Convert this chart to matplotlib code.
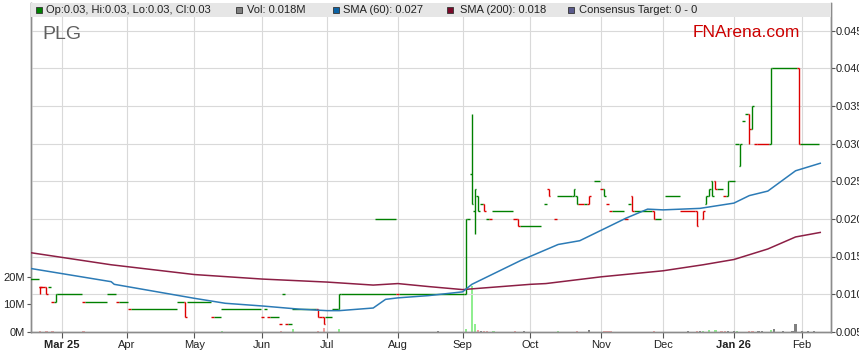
import numpy as np
import matplotlib.pyplot as plt
from matplotlib.patches import Rectangle

plt.rcParams['font.family'] = ['Liberation Sans', 'DejaVu Sans']

START = '2025-02-17'

# flat price stretches: first day, last day, price, g=up / r=down
run_first = ['2025-02-17', '2025-02-20', '2025-02-25', '2025-02-26', '2025-02-28', '2025-03-12',
             '2025-03-13', '2025-03-24', '2025-03-27', '2025-03-28', '2025-04-02', '2025-04-03',
             '2025-04-24', '2025-04-29', '2025-05-09', '2025-05-12', '2025-05-14', '2025-06-02',
             '2025-06-03', '2025-06-04', '2025-06-05', '2025-06-10', '2025-06-11', '2025-06-12',
             '2025-06-13', '2025-06-16', '2025-06-27', '2025-07-01', '2025-07-03', '2025-07-08',
             '2025-07-23', '2025-08-01', '2025-08-04', '2025-09-03', '2025-09-09', '2025-09-11',
             '2025-09-12', '2025-09-15', '2025-09-24', '2025-09-26', '2025-10-08', '2025-10-13',
             '2025-10-14', '2025-10-23', '2025-10-27', '2025-10-30', '2025-11-03', '2025-11-05',
             '2025-11-06', '2025-11-07', '2025-11-13', '2025-11-14', '2025-11-18', '2025-11-27',
             '2025-12-02', '2025-12-09', '2025-12-25', '2025-12-29', '2025-12-31', '2026-01-02',
             '2026-01-06', '2026-01-07', '2026-01-12', '2026-01-13', '2026-01-20', '2026-02-02']
run_last = ['2025-02-19', '2025-02-21', '2025-02-25', '2025-02-26', '2025-03-11', '2025-03-12',
            '2025-03-21', '2025-03-26', '2025-03-27', '2025-04-01', '2025-04-02', '2025-04-23',
            '2025-04-25', '2025-05-08', '2025-05-09', '2025-05-13', '2025-05-30', '2025-06-02',
            '2025-06-03', '2025-06-04', '2025-06-09', '2025-06-10', '2025-06-11', '2025-06-12',
            '2025-06-13', '2025-06-25', '2025-06-27', '2025-07-02', '2025-07-04', '2025-07-31',
            '2025-07-31', '2025-08-01', '2025-09-01', '2025-09-03', '2025-09-09', '2025-09-11',
            '2025-09-12', '2025-09-23', '2025-09-24', '2025-10-06', '2025-10-08', '2025-10-13',
            '2025-10-20', '2025-10-24', '2025-10-27', '2025-10-31', '2025-11-03', '2025-11-05',
            '2025-11-06', '2025-11-12', '2025-11-13', '2025-11-14', '2025-11-25', '2025-11-28',
            '2025-12-08', '2025-12-15', '2025-12-26', '2025-12-29', '2026-01-01', '2026-01-02',
            '2026-01-06', '2026-01-07', '2026-01-12', '2026-01-16', '2026-01-29', '2026-02-09']
run_price = [0.012, 0.011, 0.011, 0.009, 0.010, 0.009, 0.009, 0.010, 0.009, 0.009, 0.008, 0.008,
             0.009, 0.009, 0.007, 0.007, 0.008, 0.007, 0.008, 0.007, 0.007, 0.006, 0.010, 0.006,
             0.006, 0.008, 0.007, 0.007, 0.008, 0.010, 0.020, 0.010, 0.010, 0.020, 0.022, 0.020,
             0.020, 0.021, 0.020, 0.019, 0.022, 0.020, 0.023, 0.022, 0.022, 0.025, 0.024, 0.022,
             0.021, 0.021, 0.020, 0.022, 0.021, 0.020, 0.023, 0.021, 0.024, 0.023, 0.025, 0.030,
             0.033, 0.034, 0.030, 0.030, 0.040, 0.030]
run_dir = list('grgrgrggrgrgggrggrgrgrgrggrggggrggggrgrggrgrggrrrgrggggrgrggggrrggg')

# days with a move inside the day
bar_date = ['2025-02-20', '2025-02-24', '2025-02-27', '2025-04-28', '2025-06-26', '2025-06-30',
            '2025-07-07', '2025-09-02', '2025-09-04', '2025-09-05', '2025-09-08', '2025-09-10',
            '2025-09-25', '2025-10-09', '2025-10-21', '2025-10-22', '2025-10-28', '2025-11-04',
            '2025-11-17', '2025-11-26', '2025-12-16', '2025-12-18', '2025-12-19', '2025-12-22',
            '2025-12-23', '2025-12-24', '2025-12-30', '2026-01-05', '2026-01-08', '2026-01-09',
            '2026-01-19', '2026-01-30']
bar_open = [0.011, 0.011, 0.009, 0.009, 0.008, 0.007, 0.008, 0.010, 0.026, 0.021, 0.023, 0.022,
            0.020, 0.024, 0.023, 0.023, 0.022, 0.024, 0.023, 0.021, 0.021, 0.020, 0.022, 0.023,
            0.025, 0.025, 0.023, 0.027, 0.034, 0.032, 0.030, 0.040]
bar_high = [0.011, 0.011, 0.010, 0.009, 0.008, 0.007, 0.010, 0.020, 0.034, 0.024, 0.023, 0.022,
            0.020, 0.024, 0.024, 0.023, 0.023, 0.024, 0.023, 0.021, 0.021, 0.021, 0.023, 0.024,
            0.025, 0.025, 0.025, 0.030, 0.034, 0.035, 0.040, 0.040]
bar_low = [0.010, 0.010, 0.009, 0.007, 0.007, 0.006, 0.008, 0.010, 0.022, 0.018, 0.021, 0.021,
           0.019, 0.023, 0.023, 0.022, 0.022, 0.023, 0.021, 0.020, 0.019, 0.020, 0.022, 0.023,
           0.023, 0.024, 0.023, 0.027, 0.030, 0.032, 0.030, 0.030]
bar_close = [0.011, 0.010, 0.010, 0.007, 0.007, 0.006, 0.010, 0.020, 0.022, 0.024, 0.021, 0.021,
             0.019, 0.023, 0.024, 0.022, 0.023, 0.023, 0.021, 0.020, 0.019, 0.021, 0.023, 0.024,
             0.023, 0.024, 0.025, 0.030, 0.032, 0.035, 0.040, 0.030]
bar_dir = list('rrgrrrgggggrrrggrgrrrrgggrggrggr')

sma60_dates = ['2025-02-17', '2025-03-25', '2025-03-26', '2025-05-01', '2025-05-15', '2025-06-02',
               '2025-06-18', '2025-07-01', '2025-07-07', '2025-07-22', '2025-07-28', '2025-08-01',
               '2025-08-15', '2025-09-01', '2025-09-04', '2025-09-26', '2025-10-14', '2025-10-23',
               '2025-11-03', '2025-11-13', '2025-11-24', '2025-12-01', '2025-12-17', '2026-01-01',
               '2026-01-08', '2026-01-16', '2026-01-29', '2026-02-10']
sma60_vals = [0.0134, 0.01165, 0.0113, 0.00944, 0.00878, 0.00842, 0.0080, 0.0078, 0.0078, 0.00815,
              0.0093, 0.0095, 0.0098, 0.0103, 0.0113, 0.0145, 0.0166, 0.0171, 0.0185, 0.0201,
              0.0213, 0.0212, 0.0214, 0.0221, 0.0231, 0.0237, 0.0264, 0.0274]

sma200_dates = ['2025-02-17', '2025-03-25', '2025-05-01', '2025-06-02', '2025-07-01', '2025-07-22',
                '2025-08-01', '2025-08-15', '2025-09-01', '2025-10-01', '2025-10-08', '2025-11-03',
                '2025-12-01', '2025-12-18', '2026-01-01', '2026-01-16', '2026-01-29', '2026-02-10']
sma200_vals = [0.0155, 0.0139, 0.0126, 0.0120, 0.0116, 0.0112, 0.0114, 0.0110, 0.0106, 0.0113,
               0.0114, 0.0123, 0.0131, 0.0139, 0.0146, 0.0160, 0.0176, 0.0182]

vol_dates = ['2025-02-20', '2025-02-24', '2025-02-26', '2025-03-12', '2025-05-14', '2025-06-10',
             '2025-06-16', '2025-06-26', '2025-06-30', '2025-07-07', '2025-08-20', '2025-09-02',
             '2025-09-04', '2025-09-05', '2025-09-08', '2025-09-09', '2025-09-10', '2025-09-11',
             '2025-09-15', '2025-09-24', '2025-09-29', '2025-10-14', '2025-10-22', '2025-10-28',
             '2025-11-04', '2025-11-05', '2025-11-06', '2025-11-26', '2025-12-11', '2025-12-16',
             '2025-12-17', '2025-12-18', '2025-12-22', '2025-12-24', '2025-12-26', '2025-12-29',
             '2025-12-30', '2026-01-01', '2026-01-02', '2026-01-08', '2026-01-09', '2026-01-13',
             '2026-01-14', '2026-01-19', '2026-01-20', '2026-01-23', '2026-01-28', '2026-01-29',
             '2026-02-02', '2026-02-04', '2026-02-06']
vol_m = [0.3, 0.3, 0.3, 0.3, 0.3, 0.3, 0.8, 0.3, 1.2, 0.8, 0.2, 0.8, 16.5, 2.8, 0.6, 0.3, 0.3, 0.3,
         0.3, 0.3, 0.2, 0.3, 0.3, 0.5, 0.3, 0.3, 0.3, 0.3, 0.2, 0.3, 0.3, 0.4, 0.6, 0.6, 0.3, 0.3,
         0.3, 0.3, 0.3, 0.3, 0.3, 0.3, 0.3, 0.6, 1.0, 0.2, 0.3, 2.8, 0.3, 0.2, 0.2]
vol_kind = list('rrrrgrgrrgkgggrkrrgrkgrkrrrrkrkgggrrkkgrrkkgkkkkkkk')

month_dates = ['2025-03-03', '2025-04-01', '2025-05-01', '2025-06-02', '2025-07-01', '2025-08-01',
               '2025-09-01', '2025-10-01', '2025-11-03', '2025-12-01', '2026-01-01', '2026-02-02']
month_labels = ['Mar 25', 'Apr', 'May', 'Jun', 'Jul', 'Aug', 'Sep', 'Oct', 'Nov', 'Dec', 'Jan 26', 'Feb']

legend_labels = ['Op:0.03, Hi:0.03, Lo:0.03, Cl:0.03', 'Vol: 0.018M', 'SMA (60): 0.027',
                 'SMA (200): 0.018', 'Consensus Target: 0 - 0']


def pos(dates):
    return np.busday_count(START, np.array(dates, dtype='datetime64[D]')).astype(float)


price_col = {'g': '#008000', 'r': '#dd0000'}
vol_col = {'g': '#90ee90', 'r': '#f4a0a0', 'k': '#808080'}
grid_col = '#d9d9d9'
axis_col = '#8c8c8c'

W, H = 859, 363
fig = plt.figure(figsize=(W / 100, H / 100), dpi=100)
top_px, bot_px, left_px, right_px = 3.3, 331.7, 31, 831
ax = fig.add_axes([left_px / W, (H - bot_px) / H, (right_px - left_px) / W, (bot_px - top_px) / H])
axp = ax.twinx()

# volume, left axis
vp = pos(vol_dates)
ax.bar(vp, np.array(vol_m) * 1e6, width=0.75, color=[vol_col[k] for k in vol_kind], zorder=2)
ax.set_ylim(0, 119.4e6)
ax.set_yticks([0, 10e6, 20e6])
ax.set_yticklabels(['0M', '10M', '20M'])

# price, right axis
rf, rl = pos(run_first), pos(run_last)
axp.hlines(run_price, rf - 0.5, rl + 0.5, colors=[price_col[d] for d in run_dir], lw=1.0, zorder=3)
bp = pos(bar_date)
bc = [price_col[d] for d in bar_dir]
axp.vlines(bp, bar_low, bar_high, colors=bc, lw=1.0, zorder=3)
axp.hlines(bar_open, bp - 0.5, bp, colors=bc, lw=1.0, zorder=3)
axp.hlines(bar_close, bp, bp + 0.5, colors=bc, lw=1.0, zorder=3)

axp.plot(pos(sma200_dates), sma200_vals, color='#8c1f45', lw=1.1, zorder=4)
axp.plot(pos(sma60_dates), sma60_vals, color='#2c7bb6', lw=1.1, zorder=4)

axp.set_ylim(0.005, 0.005 + (bot_px - top_px) / 7.52 * 0.001)
pt = np.arange(0.005, 0.0451, 0.005)
axp.set_yticks(pt)
axp.set_yticklabels(['%.3f' % v for v in pt])

ax.set_xlim(0, (right_px - left_px) / 3.083)
ax.set_xticks(pos(month_dates))
ax.set_xticklabels(month_labels)
for lab in ax.get_xticklabels():
    if ' ' in lab.get_text():
        lab.set_fontweight('bold')

# grid
for x in pos(month_dates):
    ax.axvline(x, color=grid_col, lw=0.8, zorder=0)
for y in pt:
    axp.axhline(y, color=grid_col, lw=0.8, zorder=1)

for a in (ax, axp):
    a.spines['top'].set_visible(False)
    for s in ('left', 'right', 'bottom'):
        a.spines[s].set_color(axis_col)
        a.spines[s].set_linewidth(1.0)
    a.tick_params(colors='#222222', labelsize=8, length=3, width=0.8, pad=1.5)
    for t in a.get_xticklines() + a.get_yticklines():
        t.set_markeredgecolor('#555555')
ax.tick_params(axis='x', length=4, pad=2)
axp.tick_params(axis='y', pad=0.3)

# legend strip
band_h = 13.4 / (bot_px - top_px)
axp.add_patch(Rectangle((0, 1 - band_h), 1, band_h, transform=axp.transAxes,
                        fc='#e6e6e6', ec='none', zorder=6, clip_on=False))
sq_x = [35.5, 235.7, 333.3, 446.7, 568.3]
tx_x = [46.5, 246.7, 343.3, 460.0, 579.3]
sq_c = ['#008000', '#808080', '#0b62a4', '#7a0a2a', '#5a5a8c']
for sx, tx, c, lab in zip(sq_x, tx_x, sq_c, legend_labels):
    fig.add_artist(Rectangle((sx / W, (H - 13.3) / H), 6 / W, 6 / H, transform=fig.transFigure,
                             fc=c, ec='#333333', lw=0.6, zorder=10))
    fig.text(tx / W, (H - 10.3) / H, lab, fontsize=8, color='#222222', va='center', ha='left', zorder=10)

fig.text(42 / W, (H - 39) / H, 'PLG', fontsize=14, color='#606060', va='baseline')
fig.text(693 / W, (H - 36.7) / H, 'FNArena.com', fontsize=12.5, color='#cc0000', va='baseline')

fig.savefig('out.png', dpi=100)
